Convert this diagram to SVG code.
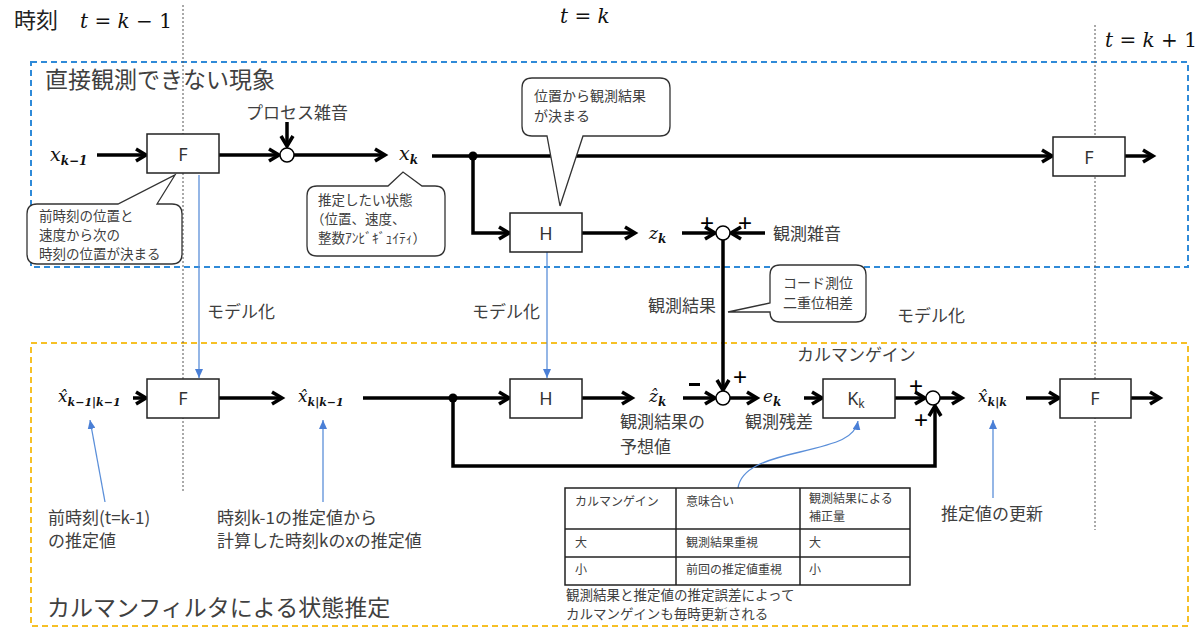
<svg xmlns="http://www.w3.org/2000/svg" width="1200" height="638" viewBox="0 0 1200 638">
<style>
.jp{font-family:"Noto Sans CJK JP","Noto Sans",sans-serif;fill:#404040}
.m{font-family:"DejaVu Serif","Liberation Serif",serif;font-style:italic;fill:#111}
.mu{font-family:"DejaVu Serif","Liberation Serif",serif;fill:#111}
.box{fill:#fff;stroke:#222;stroke-width:1.5}
.con{fill:none;stroke:#000;stroke-width:3.5}
.blue{fill:none;stroke:#5b8fd9;stroke-width:1.3}
.sum{fill:#fff;stroke:#000;stroke-width:1.5}
.call{fill:#fff;stroke:#333;stroke-width:1.3}
.bl{font-family:"Noto Sans","Liberation Sans",sans-serif;fill:#333;font-size:18px;text-anchor:middle}
.sign{font-family:"Liberation Sans",sans-serif;font-size:24px;fill:#000;text-anchor:middle}
</style>
<defs>
<marker id="ah" markerUnits="userSpaceOnUse" viewBox="-12 -8 14 16" refX="0" refY="0" markerWidth="14" markerHeight="16" orient="auto" overflow="visible">
<path d="M-10,-6 L0,0 L-10,6" fill="none" stroke="#000" stroke-width="3.5"/>
</marker>
<marker id="bh" markerUnits="userSpaceOnUse" viewBox="-9 -4 9 8" refX="0" refY="0" markerWidth="9" markerHeight="8" orient="auto">
<path d="M-9,-4 L0,0 L-9,4Z" fill="#4a7fd6"/>
</marker>
</defs>
<rect width="1200" height="638" fill="#fff"/>

<g id="frames">
<rect x="31" y="62" width="1157" height="205" fill="none" stroke="#2f8ad8" stroke-width="2" stroke-dasharray="6,4"/>
<rect x="31" y="343" width="1157" height="283" fill="none" stroke="#f6c026" stroke-width="2" stroke-dasharray="6,4"/>
<line x1="183" y1="5" x2="183" y2="493" stroke="#555" stroke-width="1" stroke-dasharray="2,2"/>
<line x1="1095" y1="25" x2="1095" y2="530" stroke="#555" stroke-width="1" stroke-dasharray="2,2"/>
</g>

<g id="titles">
<text x="14" y="28" class="jp" font-size="22" style="fill:#222">時刻</text>
<text x="80" y="28" font-size="20"><tspan class="m">t</tspan><tspan class="mu"> = </tspan><tspan class="m">k</tspan><tspan class="mu"> − 1</tspan></text>
<text x="560" y="23" font-size="20"><tspan class="m">t</tspan><tspan class="mu"> = </tspan><tspan class="m">k</tspan></text>
<text x="1105" y="47" font-size="20"><tspan class="m">t</tspan><tspan class="mu"> = </tspan><tspan class="m">k</tspan><tspan class="mu"> + 1</tspan></text>
<text x="45" y="88" class="jp" font-size="23">直接観測できない現象</text>
<text x="47" y="616" class="jp" font-size="23">カルマンフィルタによる状態推定</text>
</g>

<g id="connectors">
<path class="con" d="M97,155 H146" marker-end="url(#ah)"/>
<path class="con" d="M219,155 H279" marker-end="url(#ah)"/>
<path class="con" d="M287,122 V146" marker-end="url(#ah)"/>
<path class="con" d="M294,155 H385" marker-end="url(#ah)"/>
<path class="con" d="M432,156 H1052" marker-end="url(#ah)"/>
<path class="con" d="M473,156 V233 H509" marker-end="url(#ah)"/>
<path class="con" d="M582,233 H635" marker-end="url(#ah)"/>
<path class="con" d="M682,233 H715" marker-end="url(#ah)"/>
<path class="con" d="M765,233 H731" marker-end="url(#ah)"/>
<path class="con" d="M723,240 V390" marker-end="url(#ah)"/>
<path class="con" d="M1125,156 H1153" marker-end="url(#ah)"/>
<path class="con" d="M133,398 H146" marker-end="url(#ah)"/>
<path class="con" d="M219,398 H282" marker-end="url(#ah)"/>
<path class="con" d="M363,398 H509" marker-end="url(#ah)"/>
<path class="con" d="M453,398 V466 H935 V406" marker-end="url(#ah)"/>
<path class="con" d="M582,398 H632" marker-end="url(#ah)"/>
<path class="con" d="M683,398 H715" marker-end="url(#ah)"/>
<path class="con" d="M730,398 H757" marker-end="url(#ah)"/>
<path class="con" d="M804,398 H822" marker-end="url(#ah)"/>
<path class="con" d="M895,398 H925" marker-end="url(#ah)"/>
<path class="con" d="M940,398 H962" marker-end="url(#ah)"/>
<path class="con" d="M1026,398 H1059" marker-end="url(#ah)"/>
<path class="con" d="M1131,398 H1160" marker-end="url(#ah)"/>
<circle cx="473" cy="156" r="4.5" fill="#000"/>
<circle cx="453" cy="398" r="4.5" fill="#000"/>
<path class="blue" d="M199,175 V378" marker-end="url(#bh)"/>
<path class="blue" d="M547,252 V378" marker-end="url(#bh)"/>
<path class="blue" d="M105,502 L90,420" marker-end="url(#bh)"/>
<path class="blue" d="M323,502 V420" marker-end="url(#bh)"/>
<path class="blue" d="M993,498 V420" marker-end="url(#bh)"/>
<path class="blue" d="M738,488 C741,468 765,460 800,452 C838,443 855,438 858,421" marker-end="url(#bh)"/>
</g>

<g id="sum-top"><circle class="sum" cx="287" cy="155" r="7"/></g>
<g id="sum-obs"><circle class="sum" cx="723" cy="233" r="7"/></g>
<g id="sum-res"><circle class="sum" cx="723" cy="398" r="7"/></g>
<g id="sum-upd"><circle class="sum" cx="933" cy="398" r="7"/></g>

<g id="signs">
<text x="707" y="231" class="sign">+</text>
<text x="745" y="231" class="sign">+</text>
<rect x="689" y="383" width="11" height="3" fill="#000"/>
<text x="740" y="385" class="sign">+</text>
<text x="916" y="394" class="sign">+</text>
<text x="921" y="428" class="sign">+</text>
</g>

<g id="F1"><rect class="box" x="147" y="134" width="72" height="39"/><text x="183" y="161" class="bl">F</text></g>
<g id="H1"><rect class="box" x="510" y="213" width="72" height="39"/><text x="546" y="240" class="bl">H</text></g>
<g id="F2"><rect class="box" x="1053" y="137" width="72" height="39"/><text x="1089" y="164" class="bl">F</text></g>
<g id="F3"><rect class="box" x="147" y="379" width="72" height="39"/><text x="183" y="405" class="bl">F</text></g>
<g id="H2"><rect class="box" x="510" y="379" width="72" height="39"/><text x="546" y="405" class="bl">H</text></g>
<g id="K"><rect class="box" x="823" y="379" width="72" height="39"/><text x="856" y="405" class="bl">K<tspan font-size="12" dy="3">k</tspan></text></g>
<g id="F4"><rect class="box" x="1060" y="379" width="71" height="39"/><text x="1095" y="405" class="bl">F</text></g>

<g id="math-labels">
<text x="50" y="161" class="m" font-size="19">x<tspan font-size="12" font-weight="bold" dy="4">k−1</tspan></text>
<text x="399" y="160" class="m" font-size="19">x<tspan font-size="12" font-weight="bold" dy="4">k</tspan></text>
<text x="649" y="239" class="m" font-size="17">z<tspan font-size="12" font-weight="bold" dy="4">k</tspan></text>
<text x="58" y="402" class="m" font-size="17">x̂<tspan font-size="11" font-weight="bold" dy="4">k−1|k−1</tspan></text>
<text x="298" y="402" class="m" font-size="17">x̂<tspan font-size="11" font-weight="bold" dy="4">k|k−1</tspan></text>
<text x="649" y="402" class="m" font-size="17">ẑ<tspan font-size="12" font-weight="bold" dy="4">k</tspan></text>
<text x="763" y="402" class="m" font-size="17">e<tspan font-size="12" font-weight="bold" dy="4">k</tspan></text>
<text x="978" y="402" class="m" font-size="17">x̂<tspan font-size="11" font-weight="bold" dy="4">k|k</tspan></text>
</g>

<g id="labels">
<text x="246" y="119" class="jp" font-size="17">プロセス雑音</text>
<text x="773" y="240" class="jp" font-size="17">観測雑音</text>
<text x="648" y="312" class="jp" font-size="17">観測結果</text>
<text x="207" y="318" class="jp" font-size="17">モデル化</text>
<text x="472" y="318" class="jp" font-size="17">モデル化</text>
<text x="897" y="322" class="jp" font-size="17">モデル化</text>
<text x="797" y="361" class="jp" font-size="17">カルマンゲイン</text>
<text class="jp" font-size="17"><tspan x="620" y="428">観測結果の</tspan><tspan x="620" y="453">予想値</tspan></text>
<text x="745" y="428" class="jp" font-size="17">観測残差</text>
<text class="jp" font-size="17"><tspan x="48" y="524">前時刻(t=k-1)</tspan><tspan x="48" y="547">の推定値</tspan></text>
<text class="jp" font-size="17"><tspan x="217" y="524">時刻k-1の推定値から</tspan><tspan x="217" y="547">計算した時刻kのxの推定値</tspan></text>
<text x="941" y="520" class="jp" font-size="17">推定値の更新</text>
</g>

<g id="callout-F">
<path class="call" d="M37,204 L118,204 L175,175 L157,204 L172,204 Q182,204 182,214 L182,254 Q182,264 172,264 L37,264 Q27,264 27,254 L27,214 Q27,204 37,204 Z"/>
<text class="jp" font-size="13.5"><tspan x="39" y="221">前時刻の位置と</tspan><tspan x="39" y="240">速度から次の</tspan><tspan x="39" y="259">時刻の位置が決まる</tspan></text>
</g>
<g id="callout-x">
<path class="call" d="M317,186 L388,186 L403,172 L422,186 L435,186 Q445,186 445,196 L445,246 Q445,256 435,256 L317,256 Q307,256 307,246 L307,196 Q307,186 317,186 Z"/>
<text class="jp" font-size="13.5"><tspan x="318" y="205">推定したい状態</tspan><tspan x="311" y="224">（位置、速度、</tspan><tspan x="318" y="243">整数ｱﾝﾋﾞｷﾞｭｲﾃｨ）</tspan></text>
</g>
<g id="callout-H">
<path class="call" d="M532,78 L660,78 Q670,78 670,88 L670,126 Q670,136 660,136 L583,136 L560,206 L547,136 L532,136 Q522,136 522,126 L522,88 Q522,78 532,78 Z"/>
<text class="jp" font-size="14"><tspan x="534" y="101">位置から観測結果</tspan><tspan x="534" y="121">が決まる</tspan></text>
</g>
<g id="callout-obs">
<path class="call" d="M780,265 L856,265 Q866,265 866,275 L866,312 Q866,322 856,322 L780,322 Q770,322 770,312 L728,312 L770,303 L770,275 Q770,265 780,265 Z"/>
<text class="jp" font-size="14"><tspan x="783" y="288">コード測位</tspan><tspan x="783" y="308">二重位相差</tspan></text>
</g>

<g id="table">
<rect x="565" y="488" width="345" height="97" fill="#fff" stroke="#222" stroke-width="1.5"/>
<line x1="676" y1="488" x2="676" y2="585" stroke="#222" stroke-width="1.5"/>
<line x1="800" y1="488" x2="800" y2="585" stroke="#222" stroke-width="1.5"/>
<line x1="565" y1="529" x2="910" y2="529" stroke="#222" stroke-width="1.5"/>
<line x1="565" y1="557" x2="910" y2="557" stroke="#222" stroke-width="1.5"/>
<text x="575" y="506" class="jp" font-size="12">カルマンゲイン</text>
<text x="686" y="506" class="jp" font-size="12">意味合い</text>
<text class="jp" font-size="12"><tspan x="809" y="503">観測結果による</tspan><tspan x="809" y="521">補正量</tspan></text>
<text x="575" y="547" class="jp" font-size="12">大</text>
<text x="686" y="547" class="jp" font-size="12">観測結果重視</text>
<text x="809" y="547" class="jp" font-size="12">大</text>
<text x="575" y="574" class="jp" font-size="12">小</text>
<text x="686" y="574" class="jp" font-size="12">前回の推定値重視</text>
<text x="809" y="574" class="jp" font-size="12">小</text>
<text class="jp" font-size="13.5"><tspan x="566" y="600">観測結果と推定値の推定誤差によって</tspan><tspan x="566" y="619">カルマンゲインも毎時更新される</tspan></text>
</g>
</svg>
